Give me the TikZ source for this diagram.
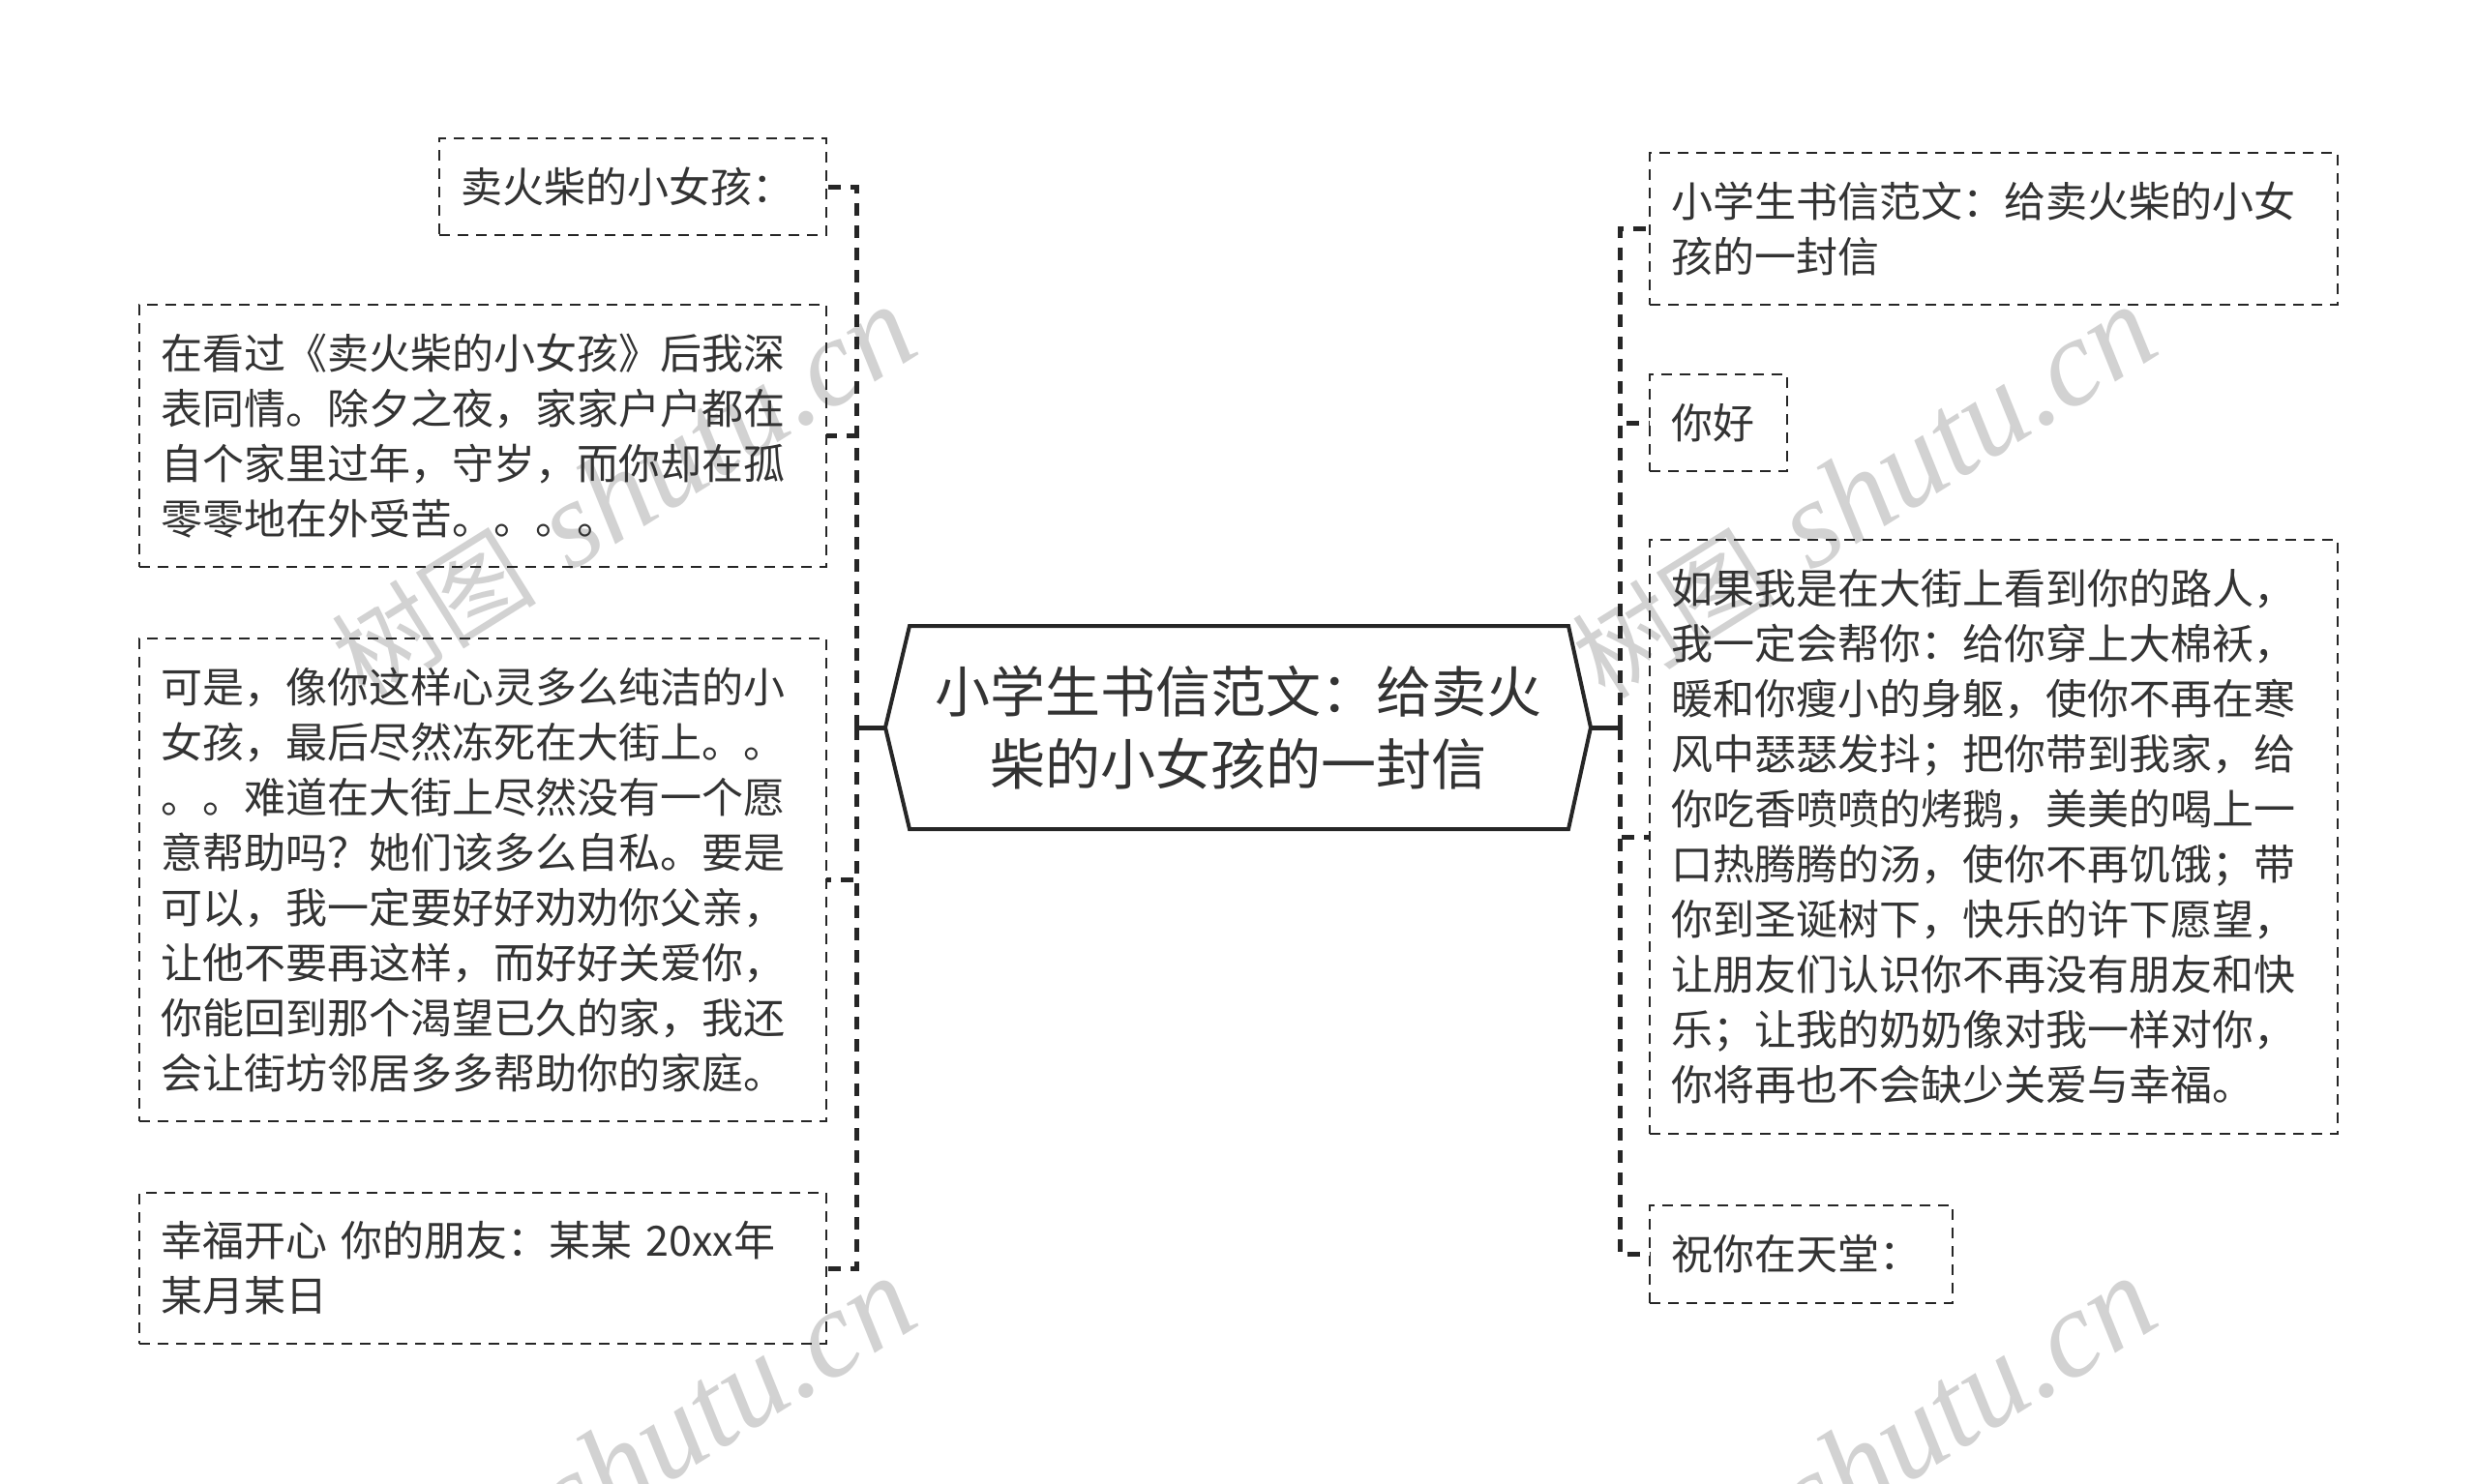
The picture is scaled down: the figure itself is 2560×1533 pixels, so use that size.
\documentclass[tikz,border=0pt]{standalone}
\usepackage{fontspec}
\newfontfamily\cjk{Noto Sans CJK SC}
\newfontfamily\wmlatin{Liberation Serif}
\definecolor{txt}{HTML}{333333}
\definecolor{ln}{HTML}{262626}
\definecolor{wm}{HTML}{D2D2D2}
\begin{document}
\begin{tikzpicture}[x=0.5pt,y=-0.5pt,
  box/.style={draw=ln, line width=1.2pt, dash pattern=on 5.5pt off 4pt,
    inner xsep=11pt, inner ysep=0pt, outer sep=0pt, align=left, text=txt,
    font=\cjk\fontsize{21.5pt}{28.5pt}\selectfont, anchor=center},
  rootnode/.style={inner sep=0pt, outer sep=0pt, align=center, text=txt,
    font=\cjk\fontsize{28.5pt}{37.5pt}\selectfont,
    minimum width=364.5pt, minimum height=105pt},
  rootline/.style={draw=ln, line width=2pt, line join=miter},
  link/.style={draw=ln, line width=2.5pt, dash pattern=on 6.5pt off 5pt},
  stub/.style={draw=ln, line width=2.5pt},
  wmark/.style={text=wm, rotate=32, anchor=base west, inner sep=0pt,
    font=\fontsize{64pt}{64pt}\selectfont}]
\useasboundingbox (0,0) rectangle (2560,1533);
\clip (0,0) rectangle (2560,1533);
\fill[white] (0,0) rectangle (2560,1533);
% watermarks
\node[wmark] (w1) at (377,725) {{\cjk\fontsize{53pt}{53pt}\selectfont 树图} {\wmlatin\itshape shutu.cn}};
\node[wmark] (w2) at (1659,725) {{\cjk\fontsize{53pt}{53pt}\selectfont 树图} {\wmlatin\itshape shutu.cn}};
\node[wmark] (w3) at (377,1729) {{\cjk\fontsize{53pt}{53pt}\selectfont 树图} {\wmlatin\itshape shutu.cn}};
\node[wmark] (w4) at (1659,1729) {{\cjk\fontsize{53pt}{53pt}\selectfont 树图} {\wmlatin\itshape shutu.cn}};
% root
\node[rootnode] (root) at (1279.5,752) {小学生书信范文：给卖火\\柴的小女孩的一封信};
\draw[rootline] (root.west) -- ([xshift=12.5pt]root.north west) -- ([xshift=-11.5pt]root.north east)
  -- (root.east) -- ([xshift=-11.5pt]root.south east) -- ([xshift=12.5pt]root.south west) -- cycle;
% left boxes
\node[box, text width=178pt, minimum width=200pt, minimum height=50pt] (L1) at (654,193) {卖火柴的小女孩：};
\node[box, text width=333pt, minimum width=355pt, minimum height=135.5pt] (L2) at (499,450.5)
  {在看过《卖火柴的小女孩》后我深\\表同情。除夕之夜，家家户户都在\\自个家里过年，守岁，而你却在孤\\零零地在外受苦。。。。};
\node[box, text width=333pt, minimum width=355pt, minimum height=249.5pt] (L3) at (499,909.5)
  {可是，像你这样心灵多么纯洁的小\\女孩，最后尽然冻死在大街上。。\\。。难道在大街上尽然没有一个愿\\意帮助吗？她们该多么自私。要是\\可以，我一定要好好劝劝你父亲，\\让他不要再这样，而好好关爱你，\\你能回到那个渴望已久的家，我还\\会让街坊邻居多多帮助你的家庭。};
\node[box, text width=333pt, minimum width=355pt, minimum height=78pt] (L4) at (499,1311)
  {幸福开心 你的朋友：某某 20xx年\\某月某日};
% right boxes
\node[box, text width=333.5pt, minimum width=355.5pt, minimum height=78.5pt] (R1) at (2060.5,236.5)
  {小学生书信范文：给卖火柴的小女\\孩的一封信};
\node[box, text width=49pt, minimum width=71pt, minimum height=50pt] (R2) at (1776,437) {你好};
\node[box, text width=333.5pt, minimum width=355.5pt, minimum height=307pt] (R3) at (2060.5,865)
  {如果我是在大街上看到你的路人，\\我一定会帮你：给你穿上大棉袄，\\暖和你瘦小的身躯，使你不再在寒\\风中瑟瑟发抖；把你带到我家，给\\你吃香喷喷的烤鹅，美美的喝上一\\口热腾腾的汤，使你不再饥饿；带\\你到圣诞树下，快乐的许下愿望，\\让朋友们认识你不再没有朋友和快\\乐；让我的奶奶像对我一样对你，\\你将再也不会缺少关爱与幸福。};
\node[box, text width=134.5pt, minimum width=156.5pt, minimum height=50.5pt] (R4) at (1861.5,1296.5) {祝你在天堂：};
% connectors
\coordinate (lj) at (885,752);
\coordinate (rj) at (1674,752);
\draw[stub] (root.west) -- (lj);
\draw[stub] (root.east) -- (rj);
\foreach \c in {L1,L2,L3,L4} \draw[link] (lj) |- (\c.east);
\foreach \c in {R1,R2,R3,R4} \draw[link] (rj) |- (\c.west);
\end{tikzpicture}
\end{document}
